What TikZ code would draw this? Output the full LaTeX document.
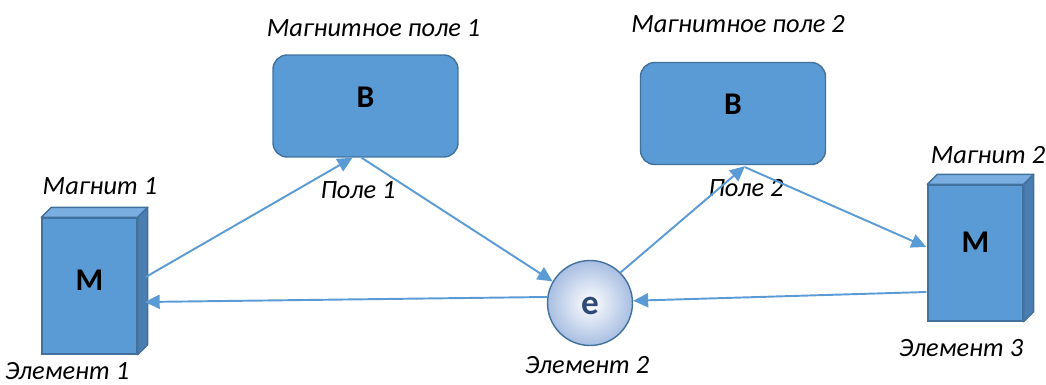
\documentclass[tikz,border=0pt]{standalone}
\usepackage{fontspec}
\setmainfont{Carlito}
\usetikzlibrary{positioning,arrows.meta,calc}

\definecolor{boxblue}{HTML}{5B9BD5}
\definecolor{edgeblue}{HTML}{41719C}
\definecolor{sideblue}{HTML}{4A7DB0}
\definecolor{topblue}{HTML}{7BAEE0}
\definecolor{ringblue}{HTML}{A8BEE2}
\definecolor{linkblue}{HTML}{5B9BD5}
\definecolor{charge}{HTML}{2E4A78}

\begin{document}
\begin{tikzpicture}[x=0.02cm,y=-0.02cm,
  magnet/.style={rectangle,draw=edgeblue,line width=0.8pt,fill=boxblue,minimum width=1.9cm,minimum height=2.72cm,inner sep=0pt},
  field/.style={rectangle,rounded corners=8pt,draw=edgeblue,line width=0.8pt,fill=boxblue,minimum width=3.7cm,minimum height=2.04cm,inner sep=0pt},
  particle/.style={circle,draw=edgeblue,line width=0.8pt,shading=radial,inner color=white,outer color=ringblue,minimum size=1.7cm,inner sep=0pt},
  letter/.style={font=\fontsize{18}{20}\selectfont\bfseries},
  lbl/.style={font=\fontsize{15}{18}\selectfont\itshape},
  link/.style={-{Triangle[length=0.3cm,width=0.28cm]},line width=1.1pt,draw=linkblue},
]
\useasboundingbox (0,0) rectangle (1046,385);

% === Magnets (boxes with top and side faces) ===
\node[magnet] (mag1) at (89.5,286) {};
\node[magnet] (mag2) at (975.5,253) {};
\foreach \m in {mag1,mag2}{
  \filldraw[fill=topblue,draw=edgeblue,line width=0.8pt,line join=round]
    (\m.north west) -- ++(10,-10) -- ([shift={(10,-10)}]\m.north east) -- (\m.north east) -- cycle;
  \filldraw[fill=sideblue,draw=edgeblue,line width=0.8pt,line join=round]
    (\m.north east) -- ++(10,-10) -- ([shift={(10,-10)}]\m.south east) -- (\m.south east) -- cycle;
}
\node[letter] (m1) at ($(mag1)+(0,-6)$) {M};
\node[letter] (m2) at ($(mag2)+(0,-11)$) {M};

% === Fields ===
\node[field] (b1) at (365.5,106) {};
\node[field] (b2) at (733,113.5) {};
\node[letter] (b1t) at ($(b1)+(0,-9)$) {B};
\node[letter] (b2t) at ($(b2)+(0,-9)$) {B};

% === Element e ===
\node[particle] (e) at (590,303) {};
\node[letter,text=charge,font=\fontsize{20}{22}\selectfont\bfseries] (et) at ($(e)+(0,3)$) {e};

% === Labels ===
\node[lbl] (l1) at (373.5,28) {Магнитное поле 1};
\node[lbl] (l2) at (738,24) {Магнитное поле 2};
\node[lbl] (l3) at (100,186) {Магнит 1};
\node[lbl] (l4) at (988,155) {Магнит 2};
\node[lbl] (l5) at (358,190) {Поле 1};
\node[lbl] (l6) at (746,188) {Поле 2};
\node[lbl] (l7) at (67,371) {Элемент 1};
\node[lbl] (l8) at (587,365) {Элемент 2};
\node[lbl] (l9) at (961,348) {Элемент 3};

% === Connectors ===
\draw[link] ($(mag1.east)+(8,-9)$) -- ($(b1.south)+(-13,0)$);
\draw[link] ($(b1.south)+(-4,0)$) -- (e.150);
\draw[link] (e.45) -- ($(b2.south)+(12,1)$);
\draw[link] ($(b2.south)+(12,2)$) -- ($(mag2.west)+(-1,-6)$);
\draw[link] ($(mag2.west)+(-1,39)$) -- (e.3);
\draw[link] (e.172) -- ($(mag1.east)+(7,16)$);

\end{tikzpicture}
\end{document}
